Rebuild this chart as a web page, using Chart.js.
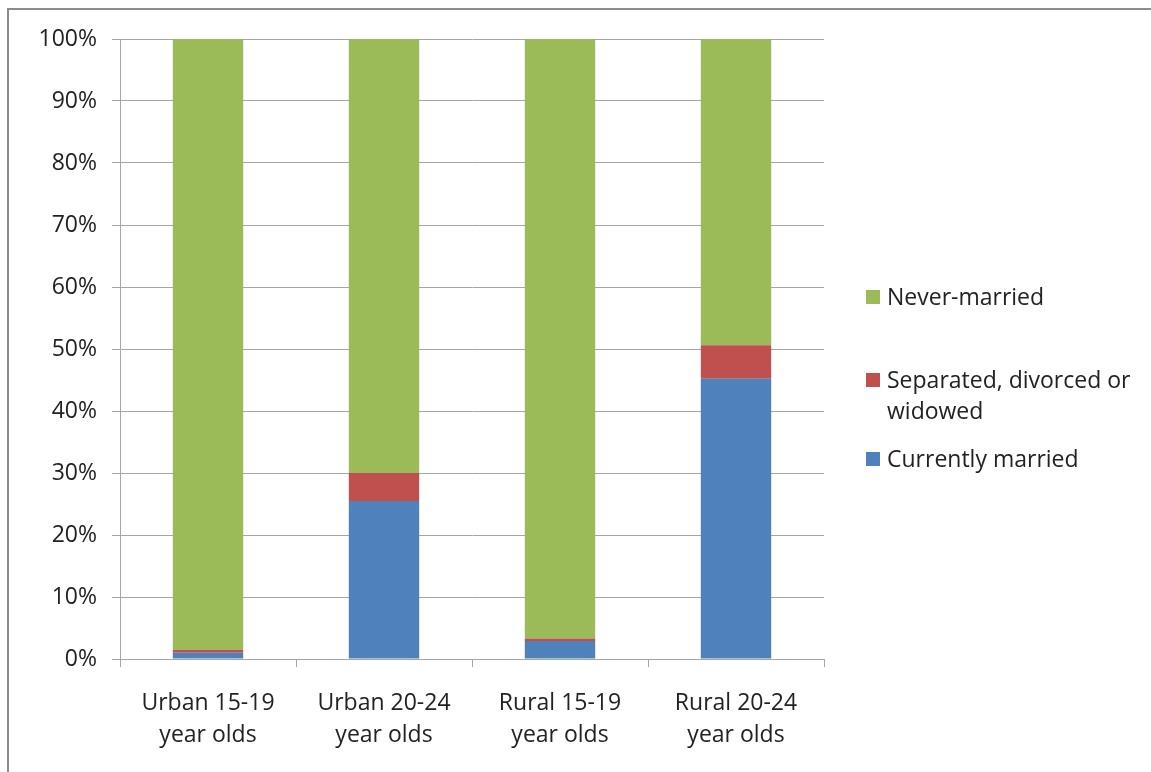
<!DOCTYPE html>
<html>
<head>
<meta charset="utf-8">
<script src="https://cdn.jsdelivr.net/npm/chart.js@4"></script>
<style>
  html, body { margin: 0; padding: 0; background: #fff; overflow: hidden; }
  #wrap { position: relative; width: 1151px; height: 772px; }
  #frame { position: absolute; left: 7px; top: 8px; width: 1200px; height: 800px; border: 2px solid #8c8c8c; box-sizing: border-box; }
  canvas { position: absolute; left: 0; top: 0; }
  #legend { position: absolute; left: 866px; top: 281px; font-family: "Open Sans", sans-serif; font-size: 23px; color: #222; }
  .item { display: flex; align-items: flex-start; line-height: 31px; }
  .box { width: 14px; height: 14px; margin-top: 9px; margin-right: 7px; flex: none; }
</style>
</head>
<body>
<div id="wrap">
  <div id="frame"></div>
  <canvas id="chart" width="1151" height="772"></canvas>
  <div id="legend"></div>
</div>
<script>
const categories = [
    ["Urban 15-19", "year olds"],
    ["Urban 20-24", "year olds"],
    ["Rural 15-19", "year olds"],
    ["Rural 20-24", "year olds"]
];
const currentlyMarried = [1.0, 25.5, 2.9, 45.2];
const separated = [0.5, 4.5, 0.4, 5.4];
const neverMarried = [98.5, 70.0, 96.7, 49.4];
const yTicks = [0, 10, 20, 30, 40, 50, 60, 70, 80, 90, 100];

const seriesNames = ["Currently married", "Separated, divorced or\nwidowed", "Never-married"];
const seriesColors = ["#4F81BD", "#C0504D", "#9BBB59"];
const seriesValues = [currentlyMarried, separated, neverMarried];

const font = { family: "Open Sans", size: 23 };
const gridColor = "#a6a6a6";

const ctx = document.getElementById("chart").getContext("2d");
const chart = new Chart(ctx, {
    type: "bar",
    data: {
        labels: categories,
        datasets: seriesValues.map((vals, i) => ({
            label: seriesNames[i],
            data: vals,
            backgroundColor: seriesColors[i],
            borderWidth: 0,
            barPercentage: 0.4,
            categoryPercentage: 1.0
        }))
    },
    options: {
        responsive: false,
        animation: false,
        layout: { padding: { left: 0, right: 327, top: 39, bottom: 0 } },
        plugins: {
            legend: { display: false },
            tooltip: { enabled: false }
        },
        scales: {
            x: {
                stacked: true,
                offset: true,
                grid: { offset: true, drawOnChartArea: false, color: gridColor, tickLength: 8, lineWidth: 1 },
                border: { color: gridColor, width: 1 },
                ticks: { color: "#222", font: { family: "Open Sans", size: 23, lineHeight: 1.4 }, padding: 20, maxRotation: 0 },
                afterFit: s => { s.height = 113; }
            },
            y: {
                stacked: true,
                min: 0,
                max: 100,
                afterBuildTicks: s => { s.ticks = yTicks.map(v => ({ value: v })); },
                grid: { color: gridColor, tickLength: 8, lineWidth: 1 },
                border: { color: gridColor, width: 1 },
                ticks: { color: "#222", font: font, padding: 15, callback: v => v + "%" },
                afterFit: s => { s.width = 120; }
            }
        }
    }
});

// legend on the right, top entry is the last series
const legend = document.getElementById("legend");
const gaps = [0, 52, 17];
seriesNames.slice().reverse().forEach((name, k) => {
    const i = seriesNames.length - 1 - k;
    const item = document.createElement("div");
    item.className = "item";
    item.style.marginTop = gaps[k] + "px";
    item.innerHTML = `<div class="box" style="background:${seriesColors[i]}"></div><div>${name.replace("\n", "<br>")}</div>`;
    legend.appendChild(item);
});
</script>
</body>
</html>
